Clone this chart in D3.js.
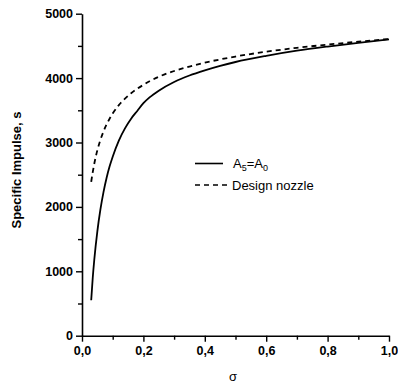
<!DOCTYPE html>
<html><head><meta charset="utf-8">
<script src="https://cdn.jsdelivr.net/npm/d3@7"></script>
<style>body{margin:0;background:#fff}svg{display:block}text{font-family:"Liberation Sans",Arial,sans-serif}</style>
</head><body>
<script>
const sigmaSolid = [0.03,0.035,0.04,0.05,0.06,0.07,0.08,0.09,0.10,0.12,0.14,0.16,0.18,0.20,0.22,0.25,0.30,0.35,0.40,0.45,0.50,0.60,0.70,0.80,0.90,1.00];
const impulseSolid = [550,900,1180,1620,1960,2230,2450,2630,2780,3030,3220,3370,3490,3610,3700,3805,3940,4040,4120,4190,4250,4345,4425,4490,4548,4600];
const sigmaDesign = [0.03,0.035,0.04,0.05,0.06,0.07,0.08,0.09,0.10,0.12,0.14,0.16,0.18,0.20,0.22,0.25,0.30,0.35,0.40,0.45,0.50,0.60,0.70,0.80,0.90,1.00];
const impulseDesign = [2390,2540,2670,2880,3040,3170,3280,3370,3450,3580,3680,3765,3835,3895,3950,4020,4110,4180,4240,4290,4335,4410,4470,4520,4565,4607];
const xTicks = [0,0.2,0.4,0.6,0.8,1.0];
const xTickLabels = ["0,0","0,2","0,4","0,6","0,8","1,0"];
const yTicks = [0,1000,2000,3000,4000,5000];
const xMinor = [0.1,0.3,0.5,0.7,0.9];
const yMinor = [500,1500,2500,3500,4500];

const W=398,H=383;
const svg=d3.select("body").append("svg").attr("width",W).attr("height",H);
const x=d3.scaleLinear().domain([0,1]).range([82,389]);
const y=d3.scaleLinear().domain([0,5000]).range([335.7,13.7]);

const gx=svg.append("g").attr("transform",`translate(0,${y(0)})`)
  .call(d3.axisBottom(x).tickValues(xTicks).tickFormat((d,i)=>xTickLabels[i]).tickSize(6).tickSizeOuter(0).tickPadding(4));
const gxm=svg.append("g").attr("transform",`translate(0,${y(0)})`)
  .call(d3.axisBottom(x).tickValues(xMinor).tickFormat("").tickSize(4).tickSizeOuter(0));
const gy=svg.append("g").attr("transform",`translate(${x(0)},0)`)
  .call(d3.axisLeft(y).tickValues(yTicks).tickFormat(d3.format("d")).tickSize(6).tickSizeOuter(0).tickPadding(3));
const gym=svg.append("g").attr("transform",`translate(${x(0)},0)`)
  .call(d3.axisLeft(y).tickValues(yMinor).tickFormat("").tickSize(4).tickSizeOuter(0));
svg.selectAll(".domain").attr("stroke","#000").attr("stroke-width",1.6);
svg.selectAll(".tick line").attr("stroke","#000").attr("stroke-width",1.4);
svg.selectAll(".tick text").attr("fill","#000").style("font-size","12.5px").style("font-weight","bold");
gxm.select(".domain").remove(); gym.select(".domain").remove();

const line=d3.line().x(d=>x(d[0])).y(d=>y(d[1])).curve(d3.curveMonotoneX);
svg.append("path").datum(sigmaSolid.map((s,i)=>[s,impulseSolid[i]]))
  .attr("d",line).attr("fill","none").attr("stroke","#000").attr("stroke-width",1.8);
svg.append("path").datum(sigmaDesign.map((s,i)=>[s,impulseDesign[i]]))
  .attr("d",line).attr("fill","none").attr("stroke","#000").attr("stroke-width",1.8).attr("stroke-dasharray","5,4");

// legend
const lg=svg.append("g");
lg.append("line").attr("x1",195).attr("x2",223).attr("y1",163.5).attr("y2",163.5).attr("stroke","#000").attr("stroke-width",1.6);
lg.append("line").attr("x1",195).attr("x2",228).attr("y1",185).attr("y2",185).attr("stroke","#000").attr("stroke-width",1.6).attr("stroke-dasharray","5,4");
const t1=lg.append("text").attr("x",233).attr("y",168).style("font-size","13px").attr("fill","#000");
t1.append("tspan").text("A");
t1.append("tspan").attr("dy",3).style("font-size","9px").text("5");
t1.append("tspan").attr("dy",-3).text("=A");
t1.append("tspan").attr("dy",3).style("font-size","9px").text("0");
lg.append("text").attr("x",232).attr("y",190).style("font-size","13px").attr("fill","#000").text("Design nozzle");

svg.append("text").attr("transform","translate(21,170) rotate(-90)").attr("text-anchor","middle")
  .style("font-size","13px").style("font-weight","bold").attr("fill","#000").text("Specific Impulse, s");
svg.append("text").attr("x",233).attr("y",381).attr("text-anchor","middle")
  .style("font-size","13px").attr("fill","#000").text("σ");
</script>
</body></html>
